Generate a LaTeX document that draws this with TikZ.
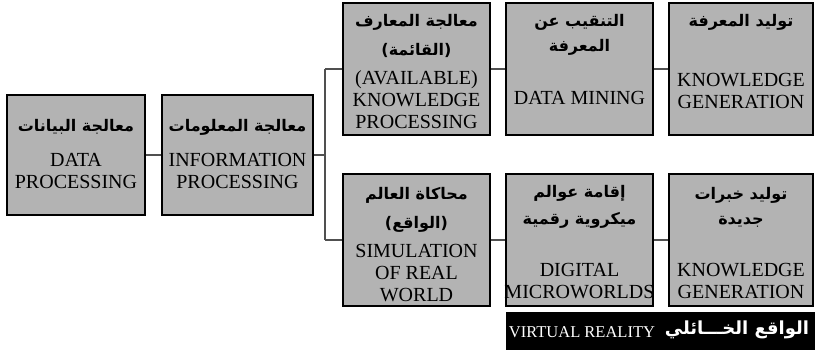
\documentclass[tikz,border=0pt]{standalone}
\usepackage{fontspec}
\setmainfont{Liberation Serif}
\newfontfamily\arfont[Script=Arabic]{DejaVu Sans}
\TeXXeTstate=1
\definecolor{boxgray}{RGB}{179,179,179}
\definecolor{linegray}{RGB}{80,80,80}
\tikzset{
  boxnode/.style={draw=black, line width=2.4pt, fill=boxgray, minimum height=#1, inner sep=0pt},
  wbox/.style={minimum width=#1},
  lat/.style={font=\fontsize{20}{22}\selectfont, align=center, inner sep=0pt},
  arb/.style={font=\arfont\bfseries\fontsize{16}{18}\selectfont, inner sep=0pt},
  conn/.style={draw=linegray, line width=1.5pt},
}
\newcommand{\AR}[1]{\beginR #1\endR}
\begin{document}
\begin{tikzpicture}[x=1pt,y=-1pt]
\useasboundingbox (0,0) rectangle (815,350);
% boxes
\node[boxnode=120pt, wbox=138pt] (b1) at (76,155) {};
\node[boxnode=120pt, wbox=151pt] (b2) at (237.5,155) {};
\node[boxnode=132pt, wbox=147pt] (b3) at (416.5,69) {};
\node[boxnode=132pt, wbox=147pt] (b4) at (579.5,69) {};
\node[boxnode=132pt, wbox=144pt] (b5) at (741,69) {};
\node[boxnode=132pt, wbox=147pt] (b6) at (416.5,240) {};
\node[boxnode=132pt, wbox=147pt] (b7) at (579.5,240) {};
\node[boxnode=132pt, wbox=144pt] (b8) at (741,240) {};
% connectors
\coordinate (j) at (325,155);
\coordinate (jt) at (325,69);
\coordinate (jb) at (325,240);
\draw[conn] (b1.east) -- (b2.west);
\draw[conn] (b2.east) -- (j);
\draw[conn] (jt) -- (jb);
\draw[conn] (jt) -- (b3.west);
\draw[conn] (jb) -- (b6.west);
\draw[conn] (b3.east) -- (b4.west);
\draw[conn] (b4.east) -- (b5.west);
\draw[conn] (b6.east) -- (b7.west);
\draw[conn] (b7.east) -- (b8.west);
% texts box 1
\node[arb] (t1a) at (76,127) {\AR{معالجة البيانات}};
\node[lat] (t1b) at (76,171) {DATA\\PROCESSING};
% box 2
\node[arb] (t2a) at (237.5,127) {\AR{معالجة المعلومات}};
\node[lat] (t2b) at (237.5,171) {INFORMATION\\PROCESSING};
% box 3
\node[arb] (t3a) at (416.5,22) {\AR{معالجة المعارف}};
\node[arb] (t3b) at (416.5,50) {\AR{(القائمة)}};
\node[lat] (t3c) at (416.5,100) {(AVAILABLE)\\KNOWLEDGE\\PROCESSING};
% box 4
\node[arb] (t4a) at (579.5,22) {\AR{التنقيب عن}};
\node[arb] (t4b) at (579.5,47) {\AR{المعرفة}};
\node[lat] (t4c) at (579.5,98) {DATA MINING};
% box 5
\node[arb] (t5a) at (741,22) {\AR{توليد المعرفة}};
\node[lat] (t5b) at (741,91) {KNOWLEDGE\\GENERATION};
% box 6
\node[arb] (t6a) at (416.5,195) {\AR{محاكاة العالم}};
\node[arb] (t6b) at (416.5,224) {\AR{(الواقع)}};
\node[lat] (t6c) at (416.5,273) {SIMULATION\\OF REAL\\WORLD};
% box 7
\node[arb] (t7a) at (579.5,193) {\AR{إقامة عوالم}};
\node[arb] (t7b) at (579.5,220) {\AR{ميكروية رقمية}};
\node[lat] (t7c) at (579.5,281) {DIGITAL\\MICROWORLDS};
% box 8
\node[arb] (t8a) at (741,195) {\AR{توليد خبرات}};
\node[arb] (t8b) at (741,222) {\AR{جديدة}};
\node[lat] (t8c) at (741,281) {KNOWLEDGE\\GENERATION};
% black bar
\node[fill=black, minimum width=309pt, minimum height=38pt, inner sep=0pt] (bar) at (660.5,331) {};
\node[font=\fontsize{16.5}{18}\selectfont, text=white, inner sep=0pt] (vr) at (582,332) {VIRTUAL REALITY};
\node[arb, font=\arfont\bfseries\fontsize{18}{20}\selectfont, text=white] (vra) at (737,330) {\AR{الواقع الخـــائلي}};
\end{tikzpicture}
\end{document}
